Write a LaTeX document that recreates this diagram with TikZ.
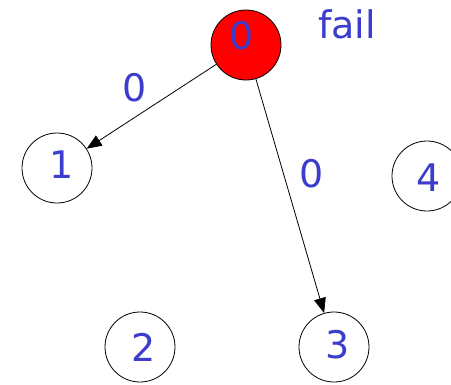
\documentclass[tikz,border=0pt]{standalone}
\usepackage{fontspec}
\setmainfont{DejaVu Sans}
\usetikzlibrary{arrows.meta}
\definecolor{lblblue}{RGB}{60,60,205}
\tikzset{
  state/.style={circle,draw=black,line width=0.8pt,minimum size=70pt,inner sep=0pt},
  lbl/.style={text=lblblue,font=\fontsize{38}{42}\selectfont,inner sep=0pt},
  edge/.style={-{Triangle[length=15pt,width=12pt]},line width=0.8pt}
}
\begin{document}
\begin{tikzpicture}[x=1pt,y=-1pt]
\useasboundingbox (0,0) rectangle (451,384);
\clip (0,0) rectangle (451,384);
\node[state,fill=red] (n0) at (246,45) {};
\node[state] (n1) at (57,168) {};
\node[state] (n4) at (427,176) {};
\node[state] (n2) at (140,347) {};
\node[state] (n3) at (334,347) {};
\node[lbl] (t0) at (242,36) {0};
\node[lbl] (t1) at (62,165) {1};
\node[lbl] (t4) at (429,178) {4};
\node[lbl] (t2) at (144,347) {2};
\node[lbl] (t3) at (338,345) {3};
\node[lbl] (fail) at (347,24) {fail};
\draw[edge] (n0) -- (n1);
\draw[edge] (n0) -- (n3);
\node[lbl] (e1) at (135,88) {0};
\node[lbl] (e3) at (312,174) {0};
\end{tikzpicture}
\end{document}
